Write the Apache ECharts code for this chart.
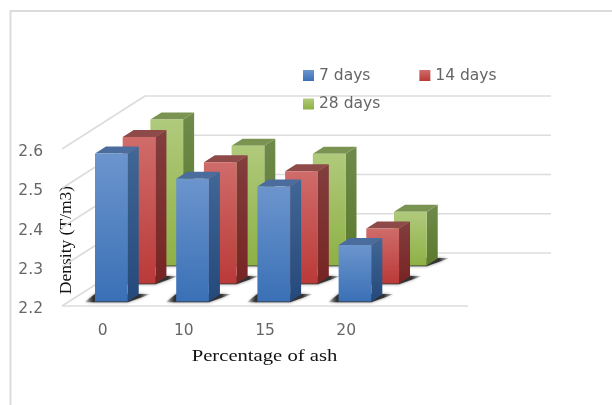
<!DOCTYPE html>
<html>
<head>
<meta charset="utf-8">
<style>html,body{margin:0;padding:0;background:#fff}#chart{width:612px;height:405px}</style>
<script src="https://cdn.jsdelivr.net/npm/echarts@6/dist/echarts.min.js"></script>
</head>
<body>
<div id="chart"></div>
<script>
// Density of the mixes by ash percentage and curing age
const categories = ['0', '10', '15', '20', ''];
const days7 = [2.577, 2.513, 2.493, 2.344];
const days14 = [2.573, 2.509, 2.486, 2.340];
const days28 = [2.572, 2.505, 2.485, 2.337];
const yTicks = [2.2, 2.3, 2.4, 2.5, 2.6];

// Oblique projection used for the depth of the floor and the bars
const DEPTH_X = 83, DEPTH_Y = 53;      // front plane to back wall
const ROW_X = 27.7, ROW_Y = 18;        // one series row further back
const BAR_X = 11, BAR_Y = 7;           // depth of a single bar
const FRONT_X = -7.6, FRONT_Y = 4.5;   // first row inset from the front plane

const vgrad = (a, b) => ({ type: 'linear', x: 0, y: 0, x2: 0, y2: 1,
  colorStops: [{ offset: 0, color: a }, { offset: 1, color: b }] });

const palette = {
  blue:  { front: vgrad('#6c95cd', '#3a70b6'), side: vgrad('#416796', '#24497a'), top: '#4a6d9d' },
  red:   { front: vgrad('#cf6c6a', '#ba3a38'), side: vgrad('#823e3d', '#772423'), top: '#8e4a49' },
  green: { front: vgrad('#b0ca7c', '#8eb045'), side: vgrad('#6f8a4a', '#5a7a2c'), top: '#7a9350' }
};

// Floor shadow: dark against the bar, fading out on both sides
const floorShadow = { type: 'linear', x: 0, y: 0, x2: 1, y2: 0, colorStops: [
  { offset: 0, color: 'rgba(40,40,40,0)' },
  { offset: 0.14, color: 'rgba(40,40,40,0.9)' },
  { offset: 0.84, color: 'rgba(40,40,40,0.9)' },
  { offset: 1, color: 'rgba(40,40,40,0)' }
] };

function barRenderer(row, colors) {
  return function (params, api) {
    const band = api.size([1, 0])[0];
    const width = band * 0.403;
    const cat = api.value(0);
    const val = api.coord([cat, api.value(1)]);
    const floor = api.coord([cat, yTicks[0]]);
    const x0 = floor[0] + FRONT_X + ROW_X * row;
    const x1 = x0 + width;
    const yb = floor[1] - FRONT_Y - ROW_Y * row;
    const yt = yb - (floor[1] - val[1]);
    const x2 = x1 + BAR_X;
    return {
      type: 'group',
      children: [
        {
          type: 'polygon',
          shape: { points: [[x0 - 11, yb + 0.8], [x1, yb + 0.8], [x2 + 12, yb - BAR_Y - 0.5], [x0, yb - BAR_Y - 0.5]] },
          style: { fill: floorShadow, shadowBlur: 3, shadowColor: 'rgba(40,40,40,0.7)' }
        },
        {
          type: 'polygon',
          shape: { points: [[x1, yt], [x2, yt - BAR_Y], [x2, yb - BAR_Y], [x1, yb]] },
          style: { fill: colors.side }
        },
        {
          type: 'polygon',
          shape: { points: [[x0, yt], [x0 + BAR_X, yt - BAR_Y], [x2, yt - BAR_Y], [x1, yt]] },
          style: { fill: colors.top }
        },
        {
          type: 'rect',
          shape: { x: x0, y: yt, width: width, height: yb - yt },
          style: { fill: colors.front }
        }
      ]
    };
  };
}

function wallRenderer(params, api) {
  const v = api.value(0);
  const band = api.size([1, 0])[0];
  const a = api.coord([0, v]);
  const b = api.coord([categories.length - 1, v]);
  const left = a[0] - band / 2, right = b[0] + band / 2, y = a[1];
  const lineStyle = { stroke: '#dcdcdc', lineWidth: 1.5, fill: null };
  const children = [
    { type: 'line', shape: { x1: left, y1: y, x2: left + DEPTH_X, y2: y - DEPTH_Y }, style: lineStyle },
    { type: 'line', shape: { x1: left + DEPTH_X, y1: y - DEPTH_Y, x2: right + DEPTH_X, y2: y - DEPTH_Y }, style: lineStyle }
  ];
  if (v === yTicks[0]) {
    children.push({ type: 'line', shape: { x1: left, y1: y, x2: right, y2: y }, style: lineStyle });
  }
  return { type: 'group', children };
}

const pairs = arr => arr.map((v, i) => [i, v]);
const sansText = { fontFamily: 'DejaVu Sans', fontSize: 15.5, color: '#666666' };
const titleFont = { fontFamily: 'Liberation Serif', fill: '#111', align: 'center', verticalAlign: 'middle' };

const chart = echarts.init(document.getElementById('chart'), null, { renderer: 'canvas' });
chart.setOption({
  animation: false,
  backgroundColor: '#fff',
  graphic: [
    {
      type: 'polyline',
      silent: true,
      shape: { points: [[10.5, 405], [10.5, 11], [612, 11]] },
      style: { stroke: '#dcdcdc', lineWidth: 2, fill: null }
    },
    // Axis titles; the horizontal one is widened along its reading direction
    { type: 'text', x: 264.5, y: 356.5, scaleX: 1.18, silent: true,
      style: Object.assign({ text: 'Percentage of ash', fontSize: 17.5 }, titleFont) },
    { type: 'text', x: 66, y: 240, rotation: Math.PI / 2, silent: true,
      style: Object.assign({ text: 'Density (T/m3)', fontSize: 17.5 }, titleFont) }
  ],
  legend: [
    {
      data: ['7 days', '14 days'], left: 298, top: 62.5, orient: 'horizontal',
      icon: 'rect', itemWidth: 11, itemHeight: 11, itemGap: 49,
      selectedMode: false, textStyle: sansText
    },
    {
      data: ['28 days'], left: 298, top: 91, orient: 'horizontal',
      icon: 'rect', itemWidth: 11, itemHeight: 11,
      selectedMode: false, textStyle: sansText
    }
  ],
  grid: { left: 62, right: 144, top: 149, bottom: 99, outerBoundsMode: 'none', containLabel: false },
  xAxis: {
    type: 'category',
    data: categories,
    axisLine: { show: false },
    axisTick: { show: false },
    axisLabel: Object.assign({ margin: 17 }, sansText)
  },
  yAxis: {
    type: 'value',
    min: 2.2,
    max: 2.6,
    interval: 0.1,
    splitLine: { show: false },
    axisLine: { show: false },
    axisTick: { show: false },
    axisLabel: {
      margin: 19,
      formatter: v => '{t|' + v.toFixed(1) + '}',
      rich: { t: Object.assign({ padding: [6, 0, 0, 0] }, sansText) }
    }
  },
  series: [
    { type: 'custom', name: 'walls', silent: true, clip: false, renderItem: wallRenderer,
      data: yTicks.map(v => [v]), encode: { y: 0 } },
    { type: 'custom', name: '28 days', clip: false, renderItem: barRenderer(2, palette.green),
      itemStyle: { color: palette.green.front }, data: pairs(days28), encode: { x: 0, y: 1 } },
    { type: 'custom', name: '14 days', clip: false, renderItem: barRenderer(1, palette.red),
      itemStyle: { color: palette.red.front }, data: pairs(days14), encode: { x: 0, y: 1 } },
    { type: 'custom', name: '7 days', clip: false, renderItem: barRenderer(0, palette.blue),
      itemStyle: { color: palette.blue.front }, data: pairs(days7), encode: { x: 0, y: 1 } }
  ]
});
</script>
</body>
</html>
